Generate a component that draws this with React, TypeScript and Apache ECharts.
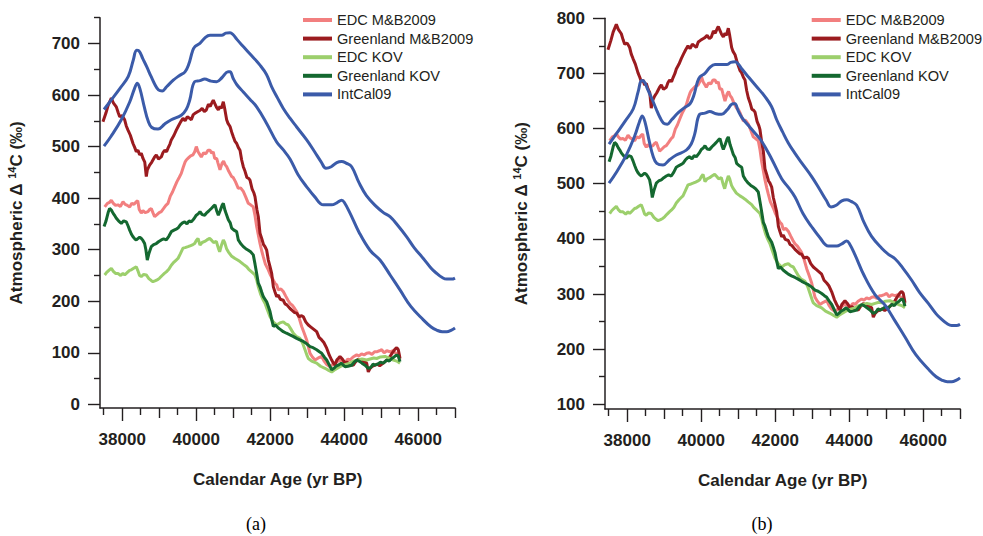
import React, { useEffect, useRef } from "react";
import * as echarts from "echarts";

// ---------------- DATA (panel (a) values) ----------------
type P = [number, number];

const SERIES_NAMES = ["EDC M&B2009", "Greenland M&B2009", "EDC KOV", "Greenland KOV", "IntCal09"];

const edcMB: P[] = [
  [37527, 383], [37600, 390], [37660, 392], [37706, 396], [37760, 390], [37820, 386], [37886, 387], [37950, 384],
  [38022, 393], [38080, 388], [38140, 386], [38202, 383], [38260, 390], [38320, 388], [38381, 393], [38420, 395],
  [38460, 378], [38516, 371], [38560, 376], [38620, 372], [38697, 374], [38740, 378], [38786, 380], [38830, 372],
  [38876, 364], [38940, 368], [39000, 372], [39057, 374], [39120, 380], [39180, 386], [39238, 390], [39300, 404],
  [39360, 412], [39418, 422], [39480, 432], [39540, 440], [39597, 448], [39650, 460], [39700, 470], [39733, 474],
  [39790, 478], [39850, 482], [39914, 484], [39960, 490], [40003, 500], [40050, 490], [40103, 484], [40138, 480],
  [40200, 488], [40260, 486], [40319, 493], [40373, 493], [40420, 487], [40460, 490], [40500, 477], [40553, 477],
  [40589, 468], [40643, 455], [40700, 468], [40740, 472], [40780, 465], [40823, 461], [40880, 452], [40958, 442],
  [41000, 440], [41060, 432], [41138, 419], [41200, 420], [41273, 413], [41340, 402], [41408, 390], [41470, 387],
  [41543, 383], [41590, 366], [41634, 345], [41680, 328], [41724, 312], [41770, 298], [41814, 286], [41870, 272],
  [41949, 261], [42000, 252], [42060, 244], [42130, 235], [42175, 232], [42220, 222], [42290, 224], [42354, 219],
  [42420, 210], [42480, 202], [42535, 196], [42600, 192], [42660, 186], [42716, 180], [42780, 168], [42851, 151],
  [42920, 138], [42986, 125], [43030, 112], [43076, 99], [43140, 92], [43211, 86], [43300, 90], [43392, 93],
  [43450, 85], [43520, 78], [43616, 73], [43700, 78], [43780, 82], [43886, 86], [43960, 84], [44030, 82],
  [44100, 88], [44157, 86], [44240, 92], [44337, 96], [44400, 94], [44470, 98], [44540, 96], [44607, 99],
  [44680, 100], [44750, 97], [44820, 102], [44878, 102], [44950, 104], [45013, 106], [45080, 100], [45150, 104],
  [45238, 102], [45320, 104], [45380, 100], [45418, 99], [45470, 92], [45508, 86],
];

const greenlandMB: P[] = [
  [37480, 548], [37560, 565], [37620, 580], [37706, 594], [37760, 585], [37841, 577], [37890, 566], [37932, 558],
  [38000, 560], [38067, 552], [38110, 540], [38157, 532], [38220, 522], [38292, 506], [38340, 498], [38381, 490],
  [38427, 493], [38470, 484], [38516, 487], [38562, 477], [38610, 470], [38651, 442], [38680, 455], [38741, 464],
  [38800, 470], [38876, 480], [38922, 484], [38980, 476], [39057, 480], [39100, 488], [39146, 493], [39200, 490],
  [39238, 497], [39290, 505], [39327, 513], [39400, 522], [39462, 532], [39520, 540], [39580, 548], [39643, 555],
  [39700, 550], [39760, 558], [39820, 555], [39868, 552], [39920, 562], [39980, 565], [40049, 568], [40100, 570],
  [40160, 574], [40220, 568], [40273, 571], [40330, 582], [40380, 578], [40430, 586], [40462, 590], [40500, 584],
  [40550, 576], [40598, 571], [40640, 578], [40680, 574], [40733, 587], [40770, 574], [40823, 552], [40860, 545],
  [40914, 539], [40960, 528], [41003, 519], [41050, 510], [41094, 506], [41140, 498], [41184, 493], [41229, 474],
  [41273, 461], [41320, 452], [41370, 440], [41420, 438], [41454, 435], [41510, 418], [41560, 410], [41589, 403],
  [41640, 378], [41679, 364], [41724, 332], [41770, 322], [41820, 310], [41859, 306], [41905, 299], [41949, 280],
  [41995, 267], [42040, 254], [42085, 228], [42130, 218], [42175, 209], [42220, 212], [42270, 204], [42354, 202],
  [42400, 195], [42450, 193], [42535, 186], [42600, 182], [42660, 178], [42716, 177], [42780, 170], [42850, 172],
  [42895, 170], [42960, 160], [43030, 154], [43100, 150], [43170, 146], [43256, 141], [43320, 130], [43392, 125],
  [43450, 120], [43527, 109], [43600, 95], [43662, 86], [43710, 80], [43751, 76], [43800, 86], [43850, 90],
  [43886, 93], [43950, 88], [44022, 80], [44080, 82], [44150, 78], [44246, 76], [44300, 82], [44380, 88],
  [44427, 86], [44500, 84], [44560, 82], [44607, 80], [44651, 63], [44700, 70], [44760, 74], [44832, 76],
  [44900, 78], [44960, 75], [45057, 80], [45120, 84], [45180, 88], [45238, 93], [45300, 100], [45373, 107],
  [45420, 110], [45462, 106], [45490, 96], [45508, 89],
];

const edcKOV: P[] = [
  [37527, 251], [37580, 256], [37640, 260], [37706, 264], [37760, 258], [37820, 254], [37886, 254], [37960, 250],
  [38020, 254], [38067, 251], [38140, 256], [38200, 260], [38246, 261], [38310, 264], [38381, 267], [38420, 260],
  [38470, 250], [38516, 248], [38580, 252], [38651, 251], [38720, 244], [38790, 240], [38832, 238], [38900, 240],
  [38960, 242], [39012, 245], [39080, 250], [39140, 254], [39192, 257], [39260, 262], [39327, 270], [39400, 276],
  [39460, 280], [39508, 283], [39570, 292], [39643, 303], [39700, 304], [39778, 306], [39850, 308], [39914, 310],
  [39959, 312], [40003, 318], [40049, 322], [40103, 309], [40160, 314], [40229, 316], [40290, 319], [40364, 322],
  [40420, 318], [40470, 314], [40544, 316], [40598, 303], [40634, 296], [40680, 308], [40733, 319], [40769, 314],
  [40820, 302], [40868, 296], [40950, 288], [41049, 283], [41120, 280], [41184, 277], [41270, 272], [41364, 267],
  [41420, 262], [41499, 257], [41589, 251], [41640, 240], [41679, 228], [41740, 214], [41800, 204], [41859, 196],
  [41920, 184], [41995, 170], [42080, 160], [42175, 154], [42260, 158], [42354, 160], [42420, 156], [42490, 154],
  [42560, 146], [42626, 138], [42700, 132], [42806, 128], [42880, 118], [42941, 106], [43000, 94], [43030, 89],
  [43120, 84], [43256, 80], [43360, 74], [43481, 70], [43580, 66], [43662, 63], [43760, 68], [43886, 73],
  [43980, 76], [44060, 78], [44157, 80], [44260, 84], [44381, 86], [44480, 88], [44607, 86], [44700, 88],
  [44800, 90], [44878, 89], [44980, 92], [45103, 93], [45200, 90], [45328, 86], [45420, 84], [45508, 80],
];

const greenlandKOV: P[] = [
  [37510, 345], [37560, 355], [37620, 372], [37660, 380], [37706, 377], [37760, 370], [37800, 366], [37841, 361],
  [37900, 356], [37976, 351], [38040, 356], [38111, 354], [38160, 346], [38202, 338], [38250, 330], [38292, 325],
  [38340, 321], [38381, 319], [38430, 322], [38470, 324], [38516, 322], [38560, 318], [38606, 312], [38640, 300],
  [38678, 280], [38720, 292], [38786, 306], [38850, 310], [38922, 312], [38990, 316], [39057, 319], [39120, 321],
  [39192, 319], [39260, 326], [39327, 335], [39400, 338], [39460, 340], [39508, 342], [39570, 348], [39630, 352],
  [39689, 354], [39750, 350], [39810, 356], [39868, 354], [39940, 360], [40003, 367], [40060, 370], [40103, 374],
  [40160, 368], [40229, 367], [40290, 372], [40350, 376], [40409, 380], [40460, 384], [40508, 387], [40560, 374],
  [40598, 367], [40650, 376], [40700, 386], [40733, 390], [40780, 376], [40830, 366], [40868, 358], [40920, 352],
  [40958, 342], [41020, 338], [41094, 335], [41138, 319], [41200, 312], [41273, 306], [41340, 302], [41408, 299],
  [41470, 296], [41543, 290], [41590, 272], [41634, 254], [41679, 235], [41724, 228], [41770, 218], [41814, 209],
  [41860, 204], [41905, 199], [41950, 190], [41995, 180], [42040, 165], [42085, 151], [42140, 154], [42220, 148],
  [42280, 145], [42354, 141], [42440, 138], [42535, 135], [42620, 132], [42716, 128], [42800, 125], [42895, 122],
  [42980, 118], [43076, 112], [43160, 110], [43256, 106], [43330, 102], [43392, 99], [43460, 92], [43527, 86],
  [43600, 76], [43662, 67], [43720, 70], [43780, 74], [43841, 76], [43920, 80], [44022, 73], [44100, 74],
  [44202, 76], [44270, 82], [44337, 86], [44400, 84], [44480, 80], [44562, 76], [44651, 70], [44720, 72],
  [44780, 78], [44832, 76], [44900, 78], [44980, 82], [45057, 80], [45150, 86], [45220, 84], [45283, 89],
  [45350, 92], [45418, 96], [45460, 94], [45508, 83],
];

const intcalUpper: P[] = [
  [37508, 572], [37700, 590], [37940, 613], [38165, 636], [38300, 668], [38389, 687], [38450, 686], [38560, 670],
  [38662, 655], [38780, 636], [38886, 620], [38980, 610], [39084, 608], [39200, 616], [39381, 629], [39550, 638],
  [39697, 645], [39800, 660], [39900, 685], [39968, 694], [40100, 700], [40250, 712], [40373, 716], [40550, 716],
  [40689, 716], [40800, 720], [40914, 721], [41000, 717], [41100, 708], [41273, 694], [41500, 676], [41724, 658],
  [41900, 640], [42040, 616], [42200, 594], [42354, 574], [42535, 555], [42716, 538], [42986, 513], [43200, 490],
  [43380, 470], [43508, 458], [43650, 461], [43800, 469], [43932, 471], [44050, 468], [44202, 461], [44400, 430],
  [44600, 405], [44878, 383], [45060, 372], [45238, 364], [45450, 347], [45689, 325], [45900, 303], [46138, 283],
  [46350, 264], [46500, 254], [46650, 246], [46770, 243], [46900, 243], [46995, 245],
];

const intcalLower: P[] = [
  [37508, 501], [37700, 520], [37976, 552], [38200, 586], [38330, 612], [38408, 623], [38480, 612], [38600, 576],
  [38700, 550], [38800, 537], [38968, 534], [39150, 544], [39327, 552], [39597, 561], [39730, 572], [39824, 590],
  [39959, 626], [40100, 628], [40229, 631], [40400, 627], [40553, 626], [40700, 634], [40860, 645], [40914, 645],
  [41000, 632], [41100, 620], [41273, 606], [41450, 592], [41634, 577], [41904, 545], [42175, 509], [42350, 494],
  [42535, 476], [42750, 446], [42986, 422], [43200, 403], [43436, 387], [43662, 387], [43800, 391], [43932, 396],
  [44000, 392], [44157, 371], [44400, 334], [44697, 299], [44968, 280], [45250, 250], [45508, 222], [45800, 190],
  [46138, 164], [46350, 150], [46500, 144], [46650, 141], [46770, 141], [46900, 144], [46995, 148],
];

// Panel (b) shows the same proxy records shifted upward by this amount.
const PANEL_B_SHIFT = 195;

const X_LABELS = [38000, 40000, 42000, 44000, 46000];
const X_MID_TICKS = [39000, 41000, 43000, 45000, 47000];
const X_MINOR_TICKS = [37500, 38500, 39500, 40500, 41500, 42500, 43500, 44500, 45500, 46500];
const YA_LABELS = [0, 100, 200, 300, 400, 500, 600, 700];
const YA_MINOR = [50, 150, 250, 350, 450, 550, 650, 750];
const YB_LABELS = [100, 200, 300, 400, 500, 600, 700, 800];
const YB_MINOR = [150, 250, 350, 450, 550, 650, 750];

// ---------------- STYLE ----------------
const COLORS: Record<string, string> = {
  "EDC M&B2009": "#f27f7f",
  "Greenland M&B2009": "#9b1b1f",
  "EDC KOV": "#9ccf6c",
  "Greenland KOV": "#146830",
  IntCal09: "#3b5ba9",
};
const INK = "#231f20";
const SANS = '"Liberation Sans", Arial, Helvetica, sans-serif';

export default function App() {
  const ref = useRef<HTMLDivElement>(null);

  useEffect(() => {
    if (!ref.current) return;
    const chart = echarts.init(ref.current, undefined, { renderer: "svg" });

    const shift = (d: P[]) => d.map(([x, y]) => [x, y + PANEL_B_SHIFT] as P);

    const grids = [
      { left: 100, top: 17.7, width: 355.2, height: 390.3 },
      { left: 605, top: 18.3, width: 355.2, height: 390.7 },
    ];
    const yRanges = [
      { min: -7, max: 750, labels: YA_LABELS, minor: YA_MINOR },
      { min: 91.5, max: 800, labels: YB_LABELS, minor: YB_MINOR },
    ];

    const xAxes: any[] = [];
    const yAxes: any[] = [];
    grids.forEach((_, g) => {
      const baseX = {
        type: "value",
        gridIndex: g,
        position: "bottom",
        min: 37400,
        max: 47000,
        splitLine: { show: false },
      };
      xAxes.push({
        ...baseX,
        axisLine: { show: true, onZero: false, lineStyle: { color: INK, width: 1.5 } },
        axisTick: { show: true, customValues: X_LABELS, length: 13, lineStyle: { color: INK, width: 1.4 } },
        axisLabel: {
          show: true,
          customValues: X_LABELS,
          margin: 23,
          color: INK,
          fontSize: 17,
          fontWeight: "bold",
          fontFamily: SANS,
          formatter: (v: number) => String(v),
        },
        name: "Calendar Age (yr BP)",
        nameLocation: "middle",
        nameGap: 63,
        nameTextStyle: { color: INK, fontSize: 17, fontWeight: "bold", fontFamily: SANS },
      });
      xAxes.push({
        ...baseX,
        axisLine: { show: false, onZero: false },
        axisTick: { show: true, customValues: X_MID_TICKS, length: 10, lineStyle: { color: INK, width: 1.4 } },
        axisLabel: { show: false },
      });
      xAxes.push({
        ...baseX,
        axisLine: { show: false, onZero: false },
        axisTick: { show: true, customValues: X_MINOR_TICKS, length: 7, lineStyle: { color: INK, width: 1.4 } },
        axisLabel: { show: false },
      });

      const yr = yRanges[g];
      const baseY = {
        type: "value",
        gridIndex: g,
        position: "left",
        min: yr.min,
        max: yr.max,
        splitLine: { show: false },
      };
      yAxes.push({
        ...baseY,
        axisLine: { show: true, onZero: false, lineStyle: { color: INK, width: 1.5 } },
        axisTick: { show: true, customValues: yr.labels, length: 12, lineStyle: { color: INK, width: 1.4 } },
        axisLabel: {
          show: true,
          customValues: yr.labels,
          margin: 20,
          color: INK,
          fontSize: 17,
          fontWeight: "bold",
          fontFamily: SANS,
          formatter: (v: number) => String(v),
        },
        name: "{m|Atmospheric \u0394 }{sup|14}{m|C (\u2030)}",
        nameLocation: "middle",
        nameGap: 75,
        nameTextStyle: {
          color: INK,
          fontSize: 17,
          fontWeight: "bold",
          fontFamily: SANS,
          rich: {
            m: { color: INK, fontSize: 17, fontWeight: "bold", fontFamily: SANS, lineHeight: 19, verticalAlign: "bottom" },
            sup: { color: INK, fontSize: 11, fontWeight: "bold", fontFamily: SANS, lineHeight: 11, verticalAlign: "top" },
          },
        },
      });
      yAxes.push({
        ...baseY,
        axisLine: { show: false, onZero: false },
        axisTick: { show: true, customValues: yr.minor, length: 6, lineStyle: { color: INK, width: 1.4 } },
        axisLabel: { show: false },
      });
    });

    const panelSeries = (g: number) => {
      const xi = g * 3;
      const yi = g * 2;
      const t = g === 0 ? (d: P[]) => d : shift;
      const mk = (name: string, data: P[], z: number, smooth: number | boolean) => ({
        type: "line",
        name,
        xAxisIndex: xi,
        yAxisIndex: yi,
        data,
        showSymbol: false,
        symbol: "none",
        smooth,
        z,
        color: COLORS[name],
        lineStyle: { color: COLORS[name], width: 3 },
      });
      return [
        mk(SERIES_NAMES[0], t(edcMB), 2, false),
        mk(SERIES_NAMES[1], t(greenlandMB), 3, false),
        mk(SERIES_NAMES[2], t(edcKOV), 4, false),
        mk(SERIES_NAMES[3], t(greenlandKOV), 5, false),
        mk(SERIES_NAMES[4], intcalUpper, 6, 0.4),
        mk(SERIES_NAMES[4], intcalLower, 6, 0.4),
      ];
    };

    const legendBase = {
      orient: "vertical",
      top: 5.7,
      icon: "rect",
      itemWidth: 29,
      itemHeight: 4,
      itemGap: 0,
      itemTextGap: 8,
      selectedMode: false,
      data: SERIES_NAMES,
      textStyle: { color: INK, fontSize: 14.6, fontFamily: SANS, lineHeight: 18.6 },
    };

    chart.setOption({
      animation: false,
      backgroundColor: "#ffffff",
      grid: grids.map((g) => ({ ...g, containLabel: false })),
      xAxis: xAxes,
      yAxis: yAxes,
      legend: [
        { ...legendBase, left: 298 },
        { ...legendBase, left: 806.7 },
      ],
      series: [...panelSeries(0), ...panelSeries(1)],
      graphic: [
        {
          type: "text",
          x: 256,
          y: 524,
          style: {
            text: "(a)",
            fontSize: 18,
            fontFamily: '"Liberation Serif", "Times New Roman", serif',
            fill: "#000",
            textAlign: "center",
            textVerticalAlign: "middle",
          },
        },
        {
          type: "text",
          x: 762,
          y: 524,
          style: {
            text: "(b)",
            fontSize: 18,
            fontFamily: '"Liberation Serif", "Times New Roman", serif',
            fill: "#000",
            textAlign: "center",
            textVerticalAlign: "middle",
          },
        },
      ],
    });

    return () => chart.dispose();
  }, []);

  return (
    <div
      ref={ref}
      style={{ position: "fixed", left: 0, top: 0, width: 983, height: 536, background: "#fff" }}
    />
  );
}
